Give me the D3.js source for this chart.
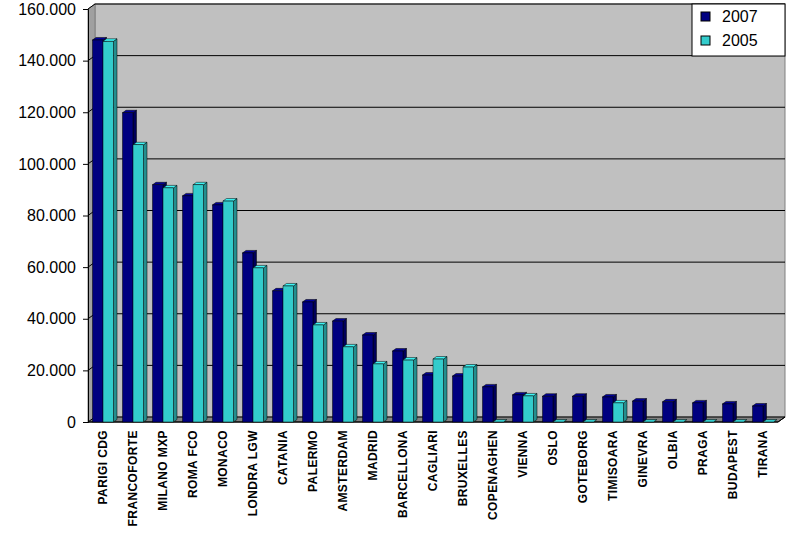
<!DOCTYPE html>
<html><head><meta charset="utf-8">
<script src="https://cdn.jsdelivr.net/npm/d3@7"></script>
<style>body{margin:0;background:#fff}text{font-family:Arial,"Liberation Sans",sans-serif}</style>
</head><body><svg id="c" width="800" height="547"></svg>
<script>
var categories = ["PARIGI CDG","FRANCOFORTE","MILANO MXP","ROMA FCO","MONACO","LONDRA LGW","CATANIA","PALERMO","AMSTERDAM","MADRID","BARCELLONA","CAGLIARI","BRUXELLES","COPENAGHEN","VIENNA","OSLO","GOTEBORG","TIMISOARA","GINEVRA","OLBIA","PRAGA","BUDAPEST","TIRANA"];
var values2007 = [148000,119800,91900,87600,84100,65500,50800,46500,39100,33700,27500,18200,17800,13600,10500,10000,10000,9700,8100,7800,7400,7000,6200];
var values2005 = [147500,107400,90700,91900,85600,59700,52700,37600,29100,22500,24000,24400,21300,0,10100,0,0,7400,0,0,0,0,0];
var yTicks = [0,20000,40000,60000,80000,100000,120000,140000,160000];
var seriesNames = ["2007","2005"];
var seriesColors = ["#000080","#33CCCC"];

var svg = d3.select("#c");
var dx = 7, dy = 5; // 3D depth
var x0 = 88, x1 = 778;
var y = d3.scaleLinear().domain([0,160000]).range([422,9]);
var x = d3.scaleBand().domain(categories).range([x0, x1]).paddingInner(0.3).paddingOuter(0.15);
var fmt = function(v){ return v === 0 ? "0" : d3.format(",")(v).replace(/,/g,"."); };

// back wall
svg.append("rect").attr("x",x0+dx).attr("y",y(160000)-dy).attr("width",x1-x0).attr("height",y(0)-y(160000))
  .attr("fill","#C0C0C0").attr("stroke","#808080");
// left wall
svg.append("path").attr("d","M"+x0+","+y(160000)+"L"+(x0+dx)+","+(y(160000)-dy)+"L"+(x0+dx)+","+(y(0)-dy)+"L"+x0+","+y(0)+"Z")
  .attr("fill","#A0A0A0").attr("stroke","#808080");
// floor
svg.append("path").attr("d","M"+x0+","+y(0)+"L"+(x0+dx)+","+(y(0)-dy)+"L"+(x1+dx)+","+(y(0)-dy)+"L"+x1+","+y(0)+"Z")
  .attr("fill","#808080").attr("stroke","#000");

// gridlines
yTicks.forEach(function(t){
  if (t === 0) return;
  svg.append("path").attr("d","M"+x0+","+y(t)+"L"+(x0+dx)+","+(y(t)-dy)+"L"+(x1+dx)+","+(y(t)-dy))
    .attr("fill","none").attr("stroke","#000").attr("stroke-width",1);
});

// axes
var yAxis = d3.axisLeft(y).tickValues(yTicks).tickFormat(fmt).tickSize(5);
var ga = svg.append("g").attr("transform","translate("+x0+",0)").call(yAxis);
ga.selectAll("text").style("font-size","16px").attr("fill","#000").attr("dx","-4");
ga.selectAll("line,path").attr("stroke","#000");
svg.append("line").attr("x1",x0).attr("x2",x1).attr("y1",y(0)).attr("y2",y(0)).attr("stroke","#000");
svg.append("line").attr("x1",x1).attr("x2",x1+dx).attr("y1",y(0)).attr("y2",y(0)-dy).attr("stroke","#000");

// bars
var bw = x.bandwidth()/2;
function shade(c,k){ return d3.color(c).darker(k).toString(); }
[values2007, values2005].forEach(function(vals, si){
  var col = seriesColors[si];
  categories.forEach(function(cat, i){
    var v = vals[i];
    var bx = x(cat) + si*bw, by = y(v), bh = y(0) - by;
    var g = svg.append("g");
    if (bh < 0.5) {
      g.append("path").attr("d","M"+bx+","+y(0)+"l"+dx*0.5+","+(-dy*0.5)+"h"+bw+"l"+(-dx*0.5)+","+(dy*0.5)+"Z")
        .attr("fill",col).attr("stroke","#000").attr("stroke-width",0.5);
      return;
    }
    var ox = dx*0.5, oy = dy*0.5;
    g.append("path").attr("d","M"+(bx+bw)+","+by+"l"+ox+","+(-oy)+"v"+bh+"l"+(-ox)+","+oy+"Z")
      .attr("fill",shade(col,1)).attr("stroke","#000").attr("stroke-width",0.5);
    g.append("path").attr("d","M"+bx+","+by+"l"+ox+","+(-oy)+"h"+bw+"l"+(-ox)+","+oy+"Z")
      .attr("fill",d3.color(col).brighter(0.5)).attr("stroke","#000").attr("stroke-width",0.5);
    g.append("rect").attr("x",bx).attr("y",by).attr("width",bw).attr("height",bh)
      .attr("fill",col).attr("stroke","#000").attr("stroke-width",0.5);
  });
});

// category labels
svg.selectAll(".cl").data(categories).enter().append("text")
  .attr("transform",function(d){ return "translate("+(x(d)+x.bandwidth()/2+4)+",430) rotate(-90)"; })
  .attr("text-anchor","end").style("font-size","12px").style("font-weight","bold").style("letter-spacing","0.4px")
  .text(function(d){return d;});

// legend
var lg = svg.append("g").attr("transform","translate(692,4)");
lg.append("rect").attr("width",93).attr("height",52).attr("fill","#fff").attr("stroke","#000");
seriesNames.forEach(function(n,i){
  lg.append("rect").attr("x",9).attr("y",8+i*24).attr("width",9).attr("height",9).attr("fill",seriesColors[i]).attr("stroke","#000");
  lg.append("text").attr("x",30).attr("y",18+i*24).style("font-size","16px").text(n);
});
</script></body></html>
